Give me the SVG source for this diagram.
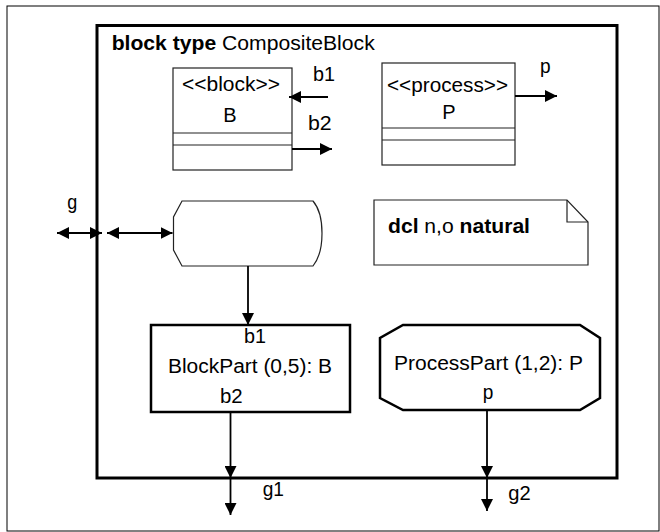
<svg xmlns="http://www.w3.org/2000/svg" width="660" height="532" viewBox="0 0 660 532">
<style>
text{font-family:"Liberation Sans",Arial,sans-serif;font-size:20px;fill:#000}
.b{font-weight:bold}
.thin{fill:#fff;stroke:#222;stroke-width:1.2}
.thick{fill:#fff;stroke:#000;stroke-width:2.5}
.c{fill:none;stroke:#000;stroke-width:1.8}
</style>
<defs>
<marker id="ah" viewBox="0 0 12 12" refX="12" refY="6" markerWidth="12" markerHeight="12" markerUnits="userSpaceOnUse" orient="auto-start-reverse">
<path d="M0,0 L12,6 L0,12 z" fill="#000"/>
</marker>
</defs>
<rect x="0" y="0" width="660" height="532" fill="#fff"/>
<rect x="7" y="6" width="652" height="525" fill="none" stroke="#000" stroke-width="1"/>
<g id="compositeBlock">
<rect x="97" y="25.5" width="520" height="452.5" fill="none" stroke="#000" stroke-width="3"/>
<text x="111.7" y="50" style="font-size:20px" textLength="263" lengthAdjust="spacingAndGlyphs"><tspan class="b">block type</tspan> CompositeBlock</text>
</g>
<g id="blockB">
<rect class="thin" x="173" y="68" width="119" height="102"/>
<line x1="173" y1="133" x2="292" y2="133" stroke="#222" stroke-width="1.2"/>
<line x1="173" y1="145" x2="292" y2="145" stroke="#222" stroke-width="1.2"/>
<text x="182" y="91" textLength="98" lengthAdjust="spacingAndGlyphs">&lt;&lt;block&gt;&gt;</text>
<text x="230" y="122" text-anchor="middle">B</text>
</g>
<g id="processP">
<rect class="thin" x="382" y="63" width="133" height="102"/>
<line x1="382" y1="128" x2="515" y2="128" stroke="#222" stroke-width="1.2"/>
<line x1="382" y1="140" x2="515" y2="140" stroke="#222" stroke-width="1.2"/>
<text x="387" y="92" textLength="121" lengthAdjust="spacingAndGlyphs">&lt;&lt;process&gt;&gt;</text>
<text x="449" y="119" text-anchor="middle">P</text>
</g>
<g id="continuous">
<path class="thin" d="M182,201 L313,201 C325,215 325,251 313,266 L182,266 L173.5,250 L173.5,217 Z"/>
</g>
<g id="note">
<path class="thin" d="M374,200 L567,200 L588,222 L588,265 L374,265 Z"/>
<path d="M567,200 L567,222 L588,222" fill="none" stroke="#222" stroke-width="1.2"/>
<text x="388" y="233" textLength="142" lengthAdjust="spacingAndGlyphs"><tspan class="b">dcl</tspan> n,o <tspan class="b">natural</tspan></text>
</g>
<g id="blockPart">
<rect class="thick" x="151" y="325" width="199" height="87"/>
<text x="244" y="343" textLength="22" lengthAdjust="spacingAndGlyphs">b1</text>
<text x="168" y="373" textLength="164" lengthAdjust="spacingAndGlyphs">BlockPart (0,5): B</text>
<text x="220" y="403" textLength="22.7" lengthAdjust="spacingAndGlyphs">b2</text>
</g>
<g id="processPart">
<path class="thick" stroke-width="2" d="M403,325 L580,325 L600,338 L600,398 L580,410 L403,410 L380,398 L380,338 Z"/>
<text x="394" y="370" textLength="189" lengthAdjust="spacingAndGlyphs">ProcessPart (1,2): P</text>
<text x="482.7" y="399" textLength="10.6" lengthAdjust="spacingAndGlyphs">p</text>
</g>
<g id="connectors">
<line class="c" stroke-width="1.2" x1="328" y1="97" x2="289" y2="97" marker-end="url(#ah)"/>
<text x="313" y="81" textLength="22" lengthAdjust="spacingAndGlyphs">b1</text>
<line class="c" x1="292" y1="149" x2="332" y2="149" marker-end="url(#ah)"/>
<text x="308" y="130" textLength="23.7" lengthAdjust="spacingAndGlyphs">b2</text>
<line class="c" x1="515" y1="96" x2="557" y2="96" marker-end="url(#ah)"/>
<text x="540" y="73" textLength="10.6" lengthAdjust="spacingAndGlyphs">p</text>
<line class="c" stroke-width="2" x1="57" y1="233" x2="102" y2="233" marker-start="url(#ah)" marker-end="url(#ah)"/>
<text x="67.3" y="208.5" textLength="10" lengthAdjust="spacingAndGlyphs">g</text>
<line class="c" stroke-width="2" x1="107" y1="233" x2="172.5" y2="233" marker-start="url(#ah)" marker-end="url(#ah)"/>
<line class="c" x1="248" y1="266" x2="248" y2="325" marker-end="url(#ah)"/>
<line class="c" x1="230.5" y1="412" x2="230.5" y2="478" marker-end="url(#ah)"/>
<line class="c" x1="230.5" y1="478" x2="230.5" y2="515" marker-end="url(#ah)"/>
<text x="262.7" y="496" textLength="21.3" lengthAdjust="spacingAndGlyphs">g1</text>
<line class="c" x1="487" y1="410" x2="487" y2="478" marker-end="url(#ah)"/>
<line class="c" x1="487" y1="478" x2="487" y2="511" marker-end="url(#ah)"/>
<text x="508.3" y="500" textLength="22.4" lengthAdjust="spacingAndGlyphs">g2</text>
</g>
</svg>
